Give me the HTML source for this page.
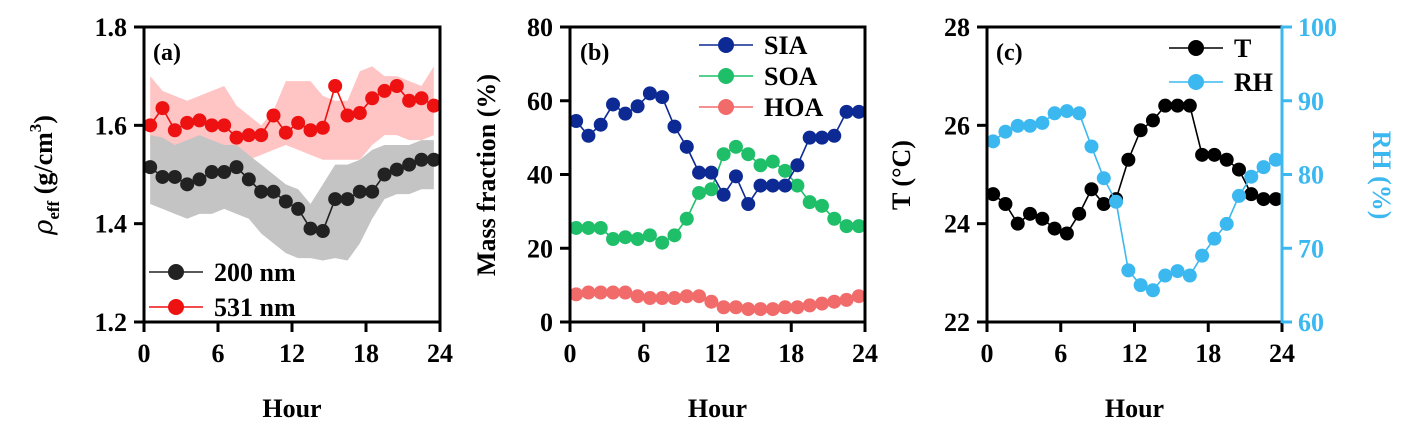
<!DOCTYPE html>
<html><head><meta charset="utf-8"><style>
html,body{margin:0;padding:0;background:#fff}
svg{display:block;font-family:"Liberation Serif",serif;font-weight:bold}
</style></head><body>
<svg id="chart" width="1410" height="432" viewBox="0 0 1410 432" xmlns="http://www.w3.org/2000/svg"></svg>
<script>
const hours=[0.5,1.5,2.5,3.5,4.5,5.5,6.5,7.5,8.5,9.5,10.5,11.5,12.5,13.5,14.5,15.5,16.5,17.5,18.5,19.5,20.5,21.5,22.5,23.5];
const xTicks=[0,6,12,18,24];
const rho531=[1.60,1.635,1.59,1.605,1.61,1.60,1.60,1.575,1.58,1.58,1.62,1.585,1.605,1.59,1.595,1.68,1.62,1.625,1.655,1.67,1.68,1.65,1.655,1.64];
const rho531Hi=[1.70,1.67,1.66,1.65,1.66,1.67,1.68,1.64,1.62,1.60,1.63,1.69,1.69,1.69,1.66,1.65,1.65,1.71,1.72,1.70,1.70,1.69,1.68,1.72];
const rho531Lo=[1.56,1.55,1.55,1.55,1.54,1.53,1.54,1.53,1.53,1.54,1.55,1.56,1.55,1.54,1.53,1.53,1.53,1.53,1.56,1.58,1.58,1.57,1.57,1.58];
const rho200=[1.515,1.495,1.495,1.48,1.49,1.505,1.505,1.515,1.49,1.465,1.465,1.445,1.43,1.39,1.385,1.45,1.45,1.465,1.465,1.50,1.51,1.52,1.53,1.53];
const rho200Hi=[1.58,1.575,1.56,1.57,1.58,1.57,1.56,1.56,1.54,1.52,1.50,1.48,1.47,1.44,1.48,1.52,1.52,1.53,1.55,1.56,1.56,1.56,1.57,1.57];
const rho200Lo=[1.44,1.43,1.42,1.41,1.42,1.42,1.43,1.42,1.41,1.38,1.36,1.34,1.33,1.33,1.325,1.33,1.325,1.36,1.41,1.45,1.46,1.46,1.47,1.47];
const rhoTicks=["1.2","1.4","1.6","1.8"];
const sia=[54.5,50.5,53.5,59,56.5,58.5,62,61,53,47.5,40.5,40.5,34.5,39.5,32,37,37,37,42.5,50,50,50.5,57,57];
const soa=[25.5,25.5,25.5,22.5,23,22.5,23.5,21.5,23.5,28,35,36,45.5,47.5,45.5,42.5,43.5,41,37,32.5,31.5,28,26,26];
const hoa=[7.5,8,8,8,8,7,6.5,6.5,6.5,7,7,5.5,4,4,3.5,3.5,3.5,4,4,4.5,5,5.5,6,7];
const massTicks=[0,20,40,60,80];
const temp=[24.6,24.4,24.0,24.2,24.1,23.9,23.8,24.2,24.7,24.4,24.5,25.3,25.9,26.1,26.4,26.4,26.4,25.4,25.4,25.3,25.1,24.6,24.5,24.5];
const rh=[84.5,85.8,86.6,86.6,87.0,88.3,88.6,88.3,83.8,79.5,76.3,67.0,65.0,64.3,66.3,66.9,66.3,69.0,71.3,73.3,77.1,79.7,81.0,82.0];
const tTicks=[22,24,26,28];
const rhTicks=[60,70,80,90,100];

const svg=document.getElementById('chart');
const NS='http://www.w3.org/2000/svg';
function mk(tag,attrs,parent){const e=document.createElementNS(NS,tag);for(const k in attrs)e.setAttribute(k,attrs[k]);(parent||svg).appendChild(e);return e;}
const TOP=27,BOT=322;
function panel(L,R,ymin,ymax){return{x:h=>L+(h/24)*(R-L),y:v=>BOT-(v-ymin)/(ymax-ymin)*(BOT-TOP),L:L,R:R};}
function axes(p,name,yt,ymin,ymax){
  const g=mk('g',{});
  
  
  mk('rect',{x:p.L,y:TOP,width:p.R-p.L,height:BOT-TOP,fill:'none',stroke:'#000','stroke-width':3},g);
  xTicks.forEach(t=>{const x=p.x(t);mk('line',{x1:x,x2:x,y1:BOT,y2:BOT+10,stroke:'#000','stroke-width':3},g);
    const tx=mk('text',{x:x,y:362,'text-anchor':'middle','font-size':26},g);tx.textContent=t;
    });
  yt.forEach(t=>{const y=BOT-(parseFloat(t)-ymin)/(ymax-ymin)*(BOT-TOP);
    mk('line',{x1:p.L-10,x2:p.L,y1:y,y2:y,stroke:'#000','stroke-width':3},g);
    const tx=mk('text',{x:p.L-17,y:y+9,'text-anchor':'end','font-size':26},g);tx.textContent=t;
    });
  const xl=mk('text',{x:(p.L+p.R)/2,y:417,'text-anchor':'middle','font-size':26},g);xl.textContent='Hour';
  
}
function band(p,hi,lo,fill,name){
  let d='M'+hours.map((h,i)=>p.x(h)+','+p.y(hi[i])).join('L');
  for(let i=hours.length-1;i>=0;i--)d+='L'+p.x(hours[i])+','+p.y(lo[i]);
  const e=mk('path',{d:d+'Z',fill:fill,stroke:'none'});
  
}
function series(p,vals,color,name,yf){
  const g=mk('g',{});
  
  const Y=yf||p.y;
  mk('polyline',{points:hours.map((h,i)=>p.x(h)+','+Y(vals[i])).join(' '),fill:'none',stroke:color,'stroke-width':1.6},g);
  hours.forEach((h,i)=>{const c=mk('circle',{cx:p.x(h),cy:Y(vals[i]),r:7,fill:color},g);
    });
}
function legend(x,y,color,label){
  const g=mk('g',{});
  
  mk('line',{x1:x,x2:x+54,y1:y,y2:y,stroke:color,'stroke-width':1.6},g);
  mk('circle',{cx:x+27,cy:y,r:8,fill:color},g);
  const t=mk('text',{x:x+65,y:y+9,'font-size':26},g);t.textContent=label;
}
function label(x,y,txt){const t=mk('text',{x:x,y:y,'font-size':24});t.textContent=txt;
  }

// Panel a
const pa=panel(144,440,1.2,1.8);
band(pa,rho531Hi,rho531Lo,'#ffc4c4','band-531nm');
band(pa,rho200Hi,rho200Lo,'#c4c4c4','band-200nm');
series(pa,rho531,'#ee1111','series-531nm');
series(pa,rho200,'#222222','series-200nm');
axes(pa,'panel-a',rhoTicks,1.2,1.8);
label(153,60,'(a)');
legend(149,272,'#222','200 nm');legend(149,307,'#ee1111','531 nm');
{const t=mk('text',{transform:'translate(52,175) rotate(-90)','text-anchor':'middle','font-size':26});

t.innerHTML='<tspan font-style="italic" font-weight="normal" font-family="DejaVu Serif">ρ</tspan><tspan font-size="17" dy="7">eff</tspan><tspan dy="-7"> (g/cm</tspan><tspan font-size="17" dy="-11">3</tspan><tspan dy="11">)</tspan>';}

// Panel b
const pb=panel(570,865,0,80);
series(pb,hoa,'#f26b6b','series-hoa');
series(pb,soa,'#1fbf6a','series-soa');
series(pb,sia,'#0d2a94','series-sia');
axes(pb,'panel-b',massTicks.map(String),0,80);
label(580,60,'(b)');
legend(699,45,'#0d2a94','SIA');legend(699,76,'#1fbf6a','SOA');legend(699,107,'#f26b6b','HOA');
{const t=mk('text',{transform:'translate(495,175) rotate(-90)','text-anchor':'middle','font-size':26});t.textContent='Mass fraction (%)';
}

// Panel c
const pc=panel(987,1282,22,28);
const rhY=v=>BOT-(v-60)/40*(BOT-TOP);
series(pc,temp,'#000','series-t');
series(pc,rh,'#3cb8f0','series-rh',rhY);
axes(pc,'panel-c',tTicks.map(String),22,28);
{const g=mk('g',{});
mk('line',{x1:1282,x2:1282,y1:TOP-1,y2:BOT+1,stroke:'#3cb8f0','stroke-width':3},g);
rhTicks.forEach(t=>{const y=rhY(t);mk('line',{x1:1282,x2:1292,y1:y,y2:y,stroke:'#3cb8f0','stroke-width':3},g);
const tx=mk('text',{x:1298,y:y+9,'font-size':26,fill:'#3cb8f0'},g);tx.textContent=t;});}
label(996,60,'(c)');
legend(1169,48,'#000','T');legend(1169,82,'#3cb8f0','RH');
{const t=mk('text',{transform:'translate(910,175) rotate(-90)','text-anchor':'middle','font-size':26});t.textContent='T (°C)';
}
{const t=mk('text',{transform:'translate(1373,175) rotate(90)','text-anchor':'middle','font-size':26,fill:'#3cb8f0'});t.textContent='RH (%)';
}
</script>
</body></html>
